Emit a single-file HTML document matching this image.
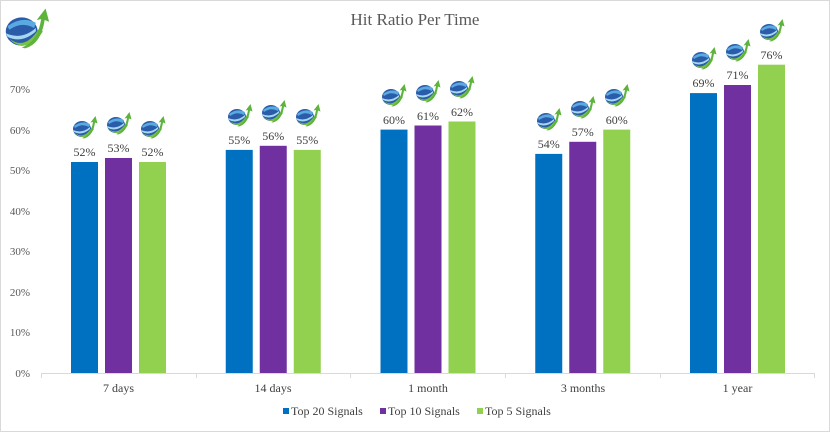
<!DOCTYPE html>
<html><head><meta charset="utf-8"><style>
html,body{margin:0;padding:0;background:#fff}
svg{display:block;font-family:"Liberation Serif",serif}
</style></head><body>
<svg width="830" height="432" viewBox="0 0 830 432" xmlns="http://www.w3.org/2000/svg">
<defs>
<symbol id="ic" viewBox="0 0 26 24">
<ellipse cx="10" cy="14" rx="9" ry="8" fill="#2a5caa"/>
<path d="M2 11 Q10 5 18 9 L17 12 Q10 8 3 13 Z" fill="#5aa9e0"/>
<path d="M1 15 Q10 19 18 12 L18 14 Q10 21 2 17 Z" fill="#a8d8f0"/>
<path d="M3 18 Q12 25 20 12 L22 14 Q14 26 5 20 Z" fill="#7cc242"/>
<path d="M10 23 Q19 20 21 7 L18.5 7.5 L23.5 1 L25.5 8.5 L23 7.5 Q21 21 12 23.5 Z" fill="#5db33b"/>
</symbol>
</defs>
<rect x="0.5" y="0.5" width="829" height="431" fill="#fff" stroke="#d9d9d9"/>
<use href="#ic" x="4" y="4" width="46" height="48"/>
<text x="415" y="25" text-anchor="middle" font-size="17" fill="#595959">Hit Ratio Per Time</text>
<g font-size="11" fill="#595959" text-anchor="end">
<text x="30" y="377">0%</text><text x="30" y="336">10%</text><text x="30" y="296">20%</text><text x="30" y="255">30%</text><text x="30" y="215">40%</text><text x="30" y="174">50%</text><text x="30" y="134">60%</text><text x="30" y="93">70%</text>
</g>
<line x1="41" y1="373.5" x2="815" y2="373.5" stroke="#d9d9d9"/>
<g stroke="#d9d9d9"><line x1="41.5" y1="373" x2="41.5" y2="378"/><line x1="196.5" y1="373" x2="196.5" y2="378"/><line x1="350.5" y1="373" x2="350.5" y2="378"/><line x1="505.5" y1="373" x2="505.5" y2="378"/><line x1="660.5" y1="373" x2="660.5" y2="378"/><line x1="814.5" y1="373" x2="814.5" y2="378"/></g>
<g font-size="12" fill="#404040" text-anchor="middle">
<text x="118.5" y="392">7 days</text><text x="273" y="392">14 days</text><text x="428" y="392">1 month</text><text x="583" y="392">3 months</text><text x="737.5" y="392">1 year</text>
</g>
<g>
<rect x="71" y="162" width="27" height="211" fill="#0070c0"/><rect x="105" y="158" width="27" height="215" fill="#7030a0"/><rect x="139" y="162" width="27" height="211" fill="#92d050"/>
<rect x="225.75" y="149.9" width="27" height="223.1" fill="#0070c0"/><rect x="259.75" y="145.8" width="27" height="227.2" fill="#7030a0"/><rect x="293.75" y="149.9" width="27" height="223.1" fill="#92d050"/>
<rect x="380.5" y="129.6" width="27" height="243.4" fill="#0070c0"/><rect x="414.5" y="125.5" width="27" height="247.5" fill="#7030a0"/><rect x="448.5" y="121.5" width="27" height="251.5" fill="#92d050"/>
<rect x="535.25" y="153.9" width="27" height="219.1" fill="#0070c0"/><rect x="569.25" y="141.8" width="27" height="231.2" fill="#7030a0"/><rect x="603.25" y="129.6" width="27" height="243.4" fill="#92d050"/>
<rect x="690" y="93.1" width="27" height="279.9" fill="#0070c0"/><rect x="724" y="85" width="27" height="288" fill="#7030a0"/><rect x="758" y="64.7" width="27" height="308.3" fill="#92d050"/>
</g>
<g font-size="12" fill="#404040" text-anchor="middle">
<text x="84.5" y="156">52%</text><text x="118.5" y="152">53%</text><text x="152.5" y="156">52%</text>
<text x="239.25" y="144">55%</text><text x="273.25" y="140">56%</text><text x="307.25" y="144">55%</text>
<text x="394" y="124">60%</text><text x="428" y="120">61%</text><text x="462" y="116">62%</text>
<text x="548.75" y="148">54%</text><text x="582.75" y="136">57%</text><text x="616.75" y="124">60%</text>
<text x="703.5" y="87">69%</text><text x="737.5" y="79">71%</text><text x="771.5" y="59">76%</text>
</g>
<g>
<use href="#ic" x="72" y="115" width="26" height="24"/><use href="#ic" x="106" y="111" width="26" height="24"/><use href="#ic" x="140" y="115" width="26" height="24"/>
<use href="#ic" x="227" y="103" width="26" height="24"/><use href="#ic" x="261" y="99" width="26" height="24"/><use href="#ic" x="295" y="103" width="26" height="24"/>
<use href="#ic" x="381" y="83" width="26" height="24"/><use href="#ic" x="415" y="79" width="26" height="24"/><use href="#ic" x="449" y="75" width="26" height="24"/>
<use href="#ic" x="536" y="107" width="26" height="24"/><use href="#ic" x="570" y="95" width="26" height="24"/><use href="#ic" x="604" y="83" width="26" height="24"/>
<use href="#ic" x="691" y="46" width="26" height="24"/><use href="#ic" x="725" y="38" width="26" height="24"/><use href="#ic" x="759" y="18" width="26" height="24"/>
</g>
<rect x="283" y="408" width="6" height="6" fill="#0070c0"/><text x="291" y="415" font-size="12" fill="#404040">Top 20 Signals</text>
<rect x="380" y="408" width="6" height="6" fill="#7030a0"/><text x="388" y="415" font-size="12" fill="#404040">Top 10 Signals</text>
<rect x="477" y="408" width="6" height="6" fill="#92d050"/><text x="485" y="415" font-size="12" fill="#404040">Top 5 Signals</text>
</svg>
</body></html>
